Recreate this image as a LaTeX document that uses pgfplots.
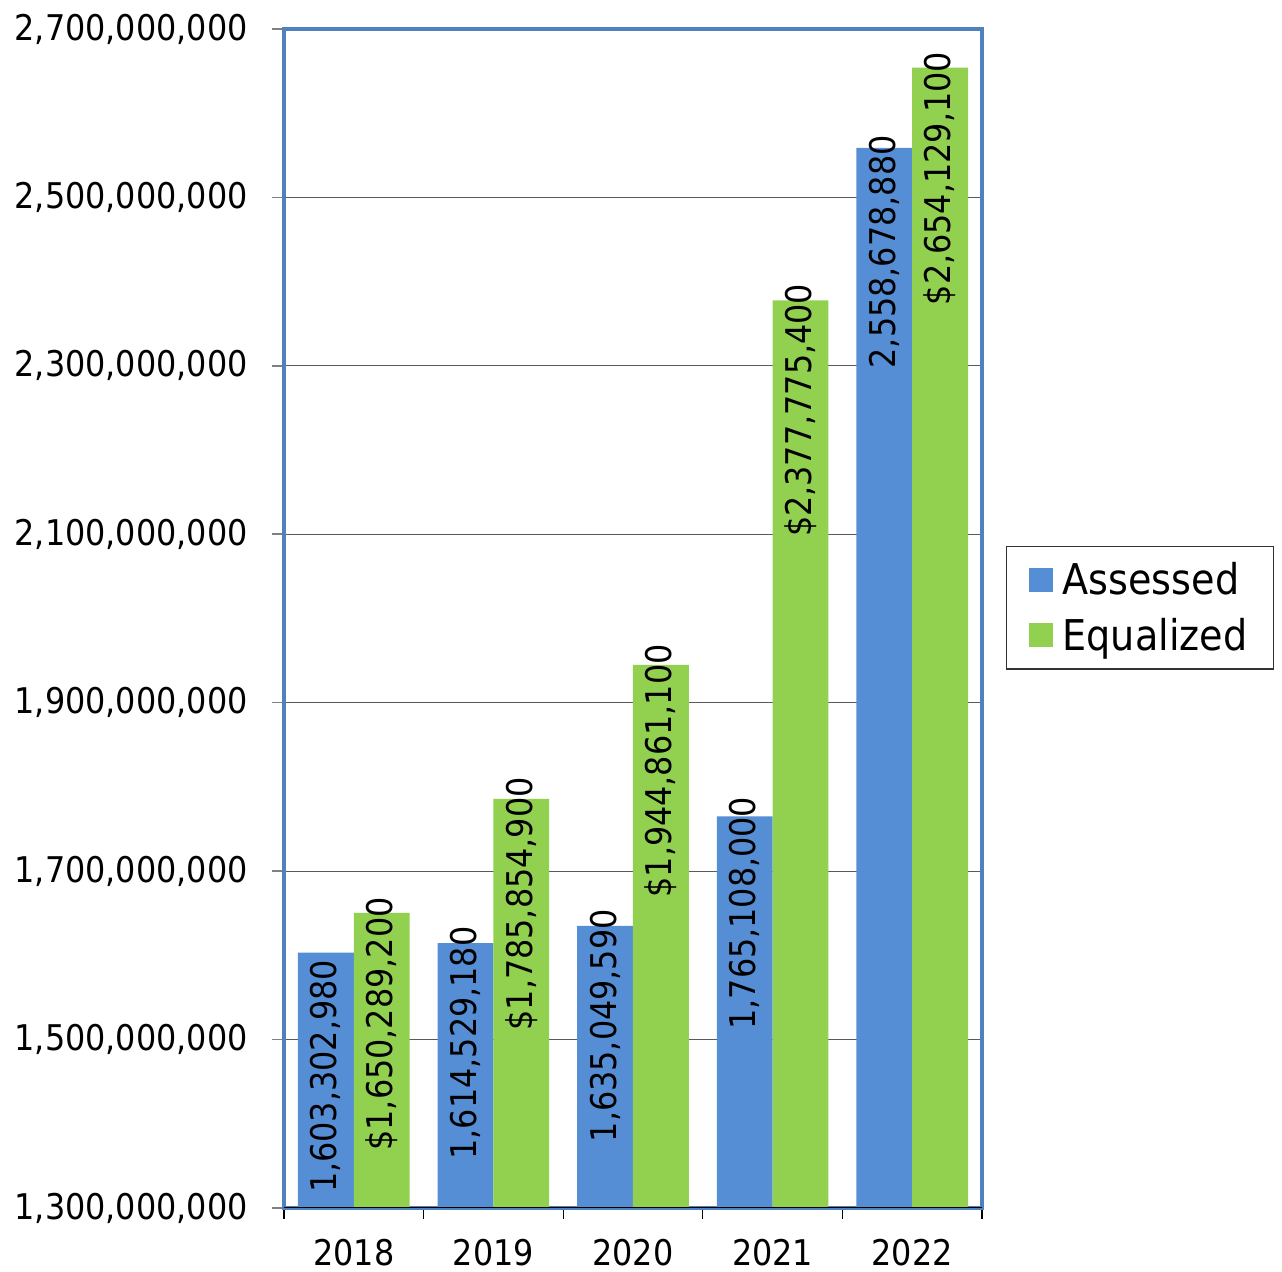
\documentclass[border=0pt]{standalone}
\usepackage{fontspec}
\setmainfont{DejaVu Sans Condensed}
\usepackage{pgfplots}
\usepackage{pgfplotstable}
\pgfplotsset{compat=1.18}
\definecolor{barblue}{RGB}{85,142,213}
\definecolor{bargreen}{RGB}{146,208,80}
\definecolor{frameblue}{RGB}{79,129,189}

\pgfplotstableread{
x y off lab
0 1603302980 -3.5 1,603,302,980
1 1614529180 8.5 1,614,529,180
2 1635049590 8.5 1,635,049,590
3 1765108000 10 1,765,108,000
4 2558678880 6.5 2,558,678,880
}\assessed

\pgfplotstableread{
x y off lab
0 1650289200 8 1,650,289,200
1 1785854900 11 1,785,854,900
2 1944861100 10.5 1,944,861,100
3 2377775400 8.5 2,377,775,400
4 2654129100 8 2,654,129,100
}\equalized

\begin{document}
\begin{tikzpicture}
\path[use as bounding box] (-142pt,-32pt) rectangle (499pt,604pt);
\begin{axis}[
  at={(0,0)}, anchor=south west,
  scale only axis, width=349pt, height=589.5pt,
  ybar=0pt, bar width=0.4,
  xmin=-0.5, xmax=4.5,
  ymin=1.3e9, ymax=2.7e9,
  xtick={0,1,2,3,4}, xticklabels={2018,2019,2020,2021,2022},
  minor xtick={-0.5,0.5,1.5,2.5,3.5,4.5},
  ytick={1.3e9,1.5e9,1.7e9,1.9e9,2.1e9,2.3e9,2.5e9,2.7e9},
  yticklabels={{1,300,000,000},{1,500,000,000},{1,700,000,000},{1,900,000,000},{2,100,000,000},{2,300,000,000},{2,500,000,000},{2,700,000,000}},
  scaled y ticks=false,
  xtick pos=bottom, ytick pos=left,
  tick align=outside,
  major tick length=6pt, minor tick length=5.5pt,
  major x tick style={draw=none},
  minor x tick style={black, line width=0.6pt},
  major y tick style={black!50, line width=0.8pt},
  ymajorgrids, major grid style={black!65, line width=0.5pt},
  axis line style={frameblue, line width=2pt},
  tick label style={font=\fontsize{17.7}{20}\selectfont},
  yticklabel style={inner sep=0pt, xshift=-12pt},
  xticklabel style={inner sep=0pt, anchor=north, yshift=-9.5pt},
  legend style={at={(axis description cs:1.0344,0.5615)}, anchor=north west,
    draw=black!80, line width=0.6pt, font=\fontsize{21.2}{25}\selectfont,
    inner xsep=11pt, inner ysep=6pt, row sep=6pt, legend cell align=left,
    /tikz/every odd column/.append style={column sep=3pt}},
  legend image code/.code={\fill[#1] (0pt,-6pt) rectangle (12pt,6pt);},
  nodes near coords style={font=\fontsize{17.7}{20}\selectfont, text=black},
]
\addplot[fill=barblue, draw=none,
  point meta=explicit symbolic,
  visualization depends on={\thisrow{off}\as\myoff},
  nodes near coords,
  nodes near coords style={yshift=\myoff pt, rotate=90, anchor=east, inner sep=0pt}]
  table[x=x, y=y, meta=lab]{\assessed};
\addlegendentry{Assessed}
\addplot[fill=bargreen, draw=none,
  point meta=explicit symbolic,
  visualization depends on={\thisrow{off}\as\myoff},
  nodes near coords={\$\pgfplotspointmeta},
  nodes near coords style={yshift=\myoff pt, rotate=90, anchor=east, inner sep=0pt}]
  table[x=x, y=y, meta=lab]{\equalized};
\addlegendentry{Equalized}
\draw[black, line width=0.6pt] (rel axis cs:0,0) -- (rel axis cs:1,0);
\end{axis}
\end{tikzpicture}
\end{document}
